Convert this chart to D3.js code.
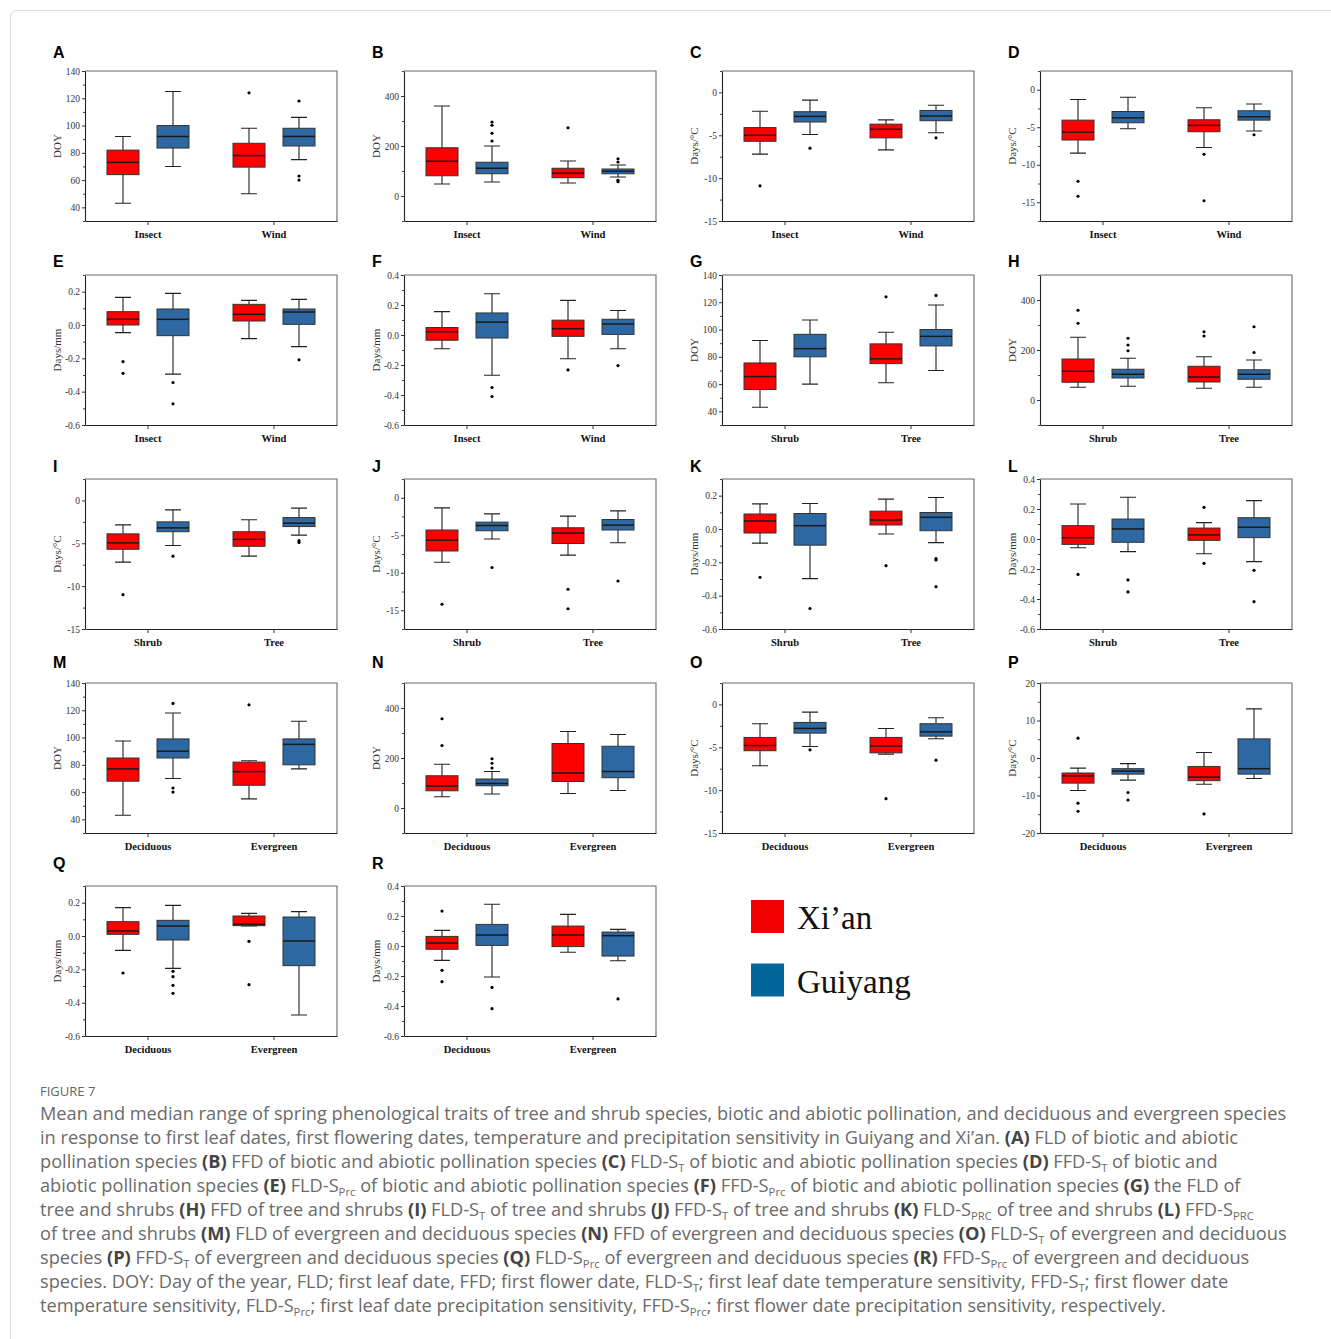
<!DOCTYPE html>
<html>
<head>
<meta charset="utf-8">
<script src="https://cdn.jsdelivr.net/npm/d3@7"></script>
<style>
  body { margin: 0; background: #fff; }
  svg { display: block; }
</style>
</head>
<body>
<svg id="fig" width="1331" height="1339"></svg>
<script>
// ---- series and groups ----
const seriesNames = ["Xi’an", "Guiyang"];
const groupsPollination = ["Insect", "Wind"];
const groupsLifeForm = ["Shrub", "Tree"];
const groupsLeafHabit = ["Deciduous", "Evergreen"];

// ---- box statistics: [lower whisker, Q1, median, Q3, upper whisker]
// order: group1-Xi'an, group1-Guiyang, group2-Xi'an, group2-Guiyang
const statsA = [[43, 64, 73, 82, 92], [70, 83.5, 92, 100, 125], [50, 69.5, 78, 87, 98], [75, 85, 92, 98, 106]];
const outliersA = [[], [], [124], [118, 63, 60]];
const statsB = [[48, 81, 139, 193, 360], [56, 89, 111, 135, 200], [52, 73, 91, 111, 140], [76, 89, 99, 108, 124]];
const outliersB = [[], [296, 283, 251, 220], [273], [149, 136, 63, 57]];
const statsC = [[-7.2, -5.7, -5.0, -4.1, -2.2], [-4.9, -3.45, -2.8, -2.25, -0.9], [-6.7, -5.3, -4.3, -3.7, -3.2], [-4.7, -3.3, -2.75, -2.1, -1.5]];
const outliersC = [[-10.9], [-6.5], [], [-5.3]];
const statsD = [[-8.45, -6.7, -5.65, -4.05, -1.3], [-5.2, -4.4, -3.75, -2.9, -1.0], [-7.7, -5.6, -4.75, -4.0, -2.4], [-5.5, -4.05, -3.6, -2.8, -1.9]];
const outliersD = [[-12.2, -14.2], [], [-8.6, -14.8], [-6.0]];
const statsE = [[-0.046, 0.0, 0.034, 0.08, 0.166], [-0.295, -0.064, 0.034, 0.096, 0.19], [-0.082, 0.024, 0.064, 0.124, 0.148], [-0.13, 0.004, 0.078, 0.096, 0.154]];
const outliersE = [[-0.22, -0.29], [-0.345, -0.473], [], [-0.209]];
const statsF = [[-0.092, -0.035, 0.022, 0.05, 0.156], [-0.268, -0.02, 0.086, 0.147, 0.275], [-0.158, -0.009, 0.042, 0.099, 0.231], [-0.092, 0.004, 0.073, 0.105, 0.163]];
const outliersF = [[], [-0.35, -0.41], [-0.233], [-0.204]];
const statsG = [[43, 56, 65.5, 75.5, 92], [60, 80, 86, 96.5, 107], [61, 75, 78.5, 89.5, 98], [70, 88, 95, 100, 118]];
const outliersG = [[], [], [124], [125]];
const statsH = [[51, 71, 115, 164, 251], [55, 88, 103, 123, 167], [47, 72, 92, 135, 173], [51, 83, 103, 121, 160]];
const outliersH = [[359, 307], [247, 220, 197], [273, 256], [293, 190]];
const statsI = [[-7.2, -5.7, -4.95, -3.9, -2.85], [-5.25, -3.65, -3.2, -2.5, -1.1], [-6.5, -5.35, -4.55, -3.65, -2.25], [-4.05, -3.05, -2.65, -2.0, -0.9]];
const outliersI = [[-11.0], [-6.5], [], [-4.7, -4.9]];
const statsJ = [[-8.6, -7.1, -5.65, -4.3, -1.35], [-5.5, -4.4, -3.7, -3.25, -2.15], [-7.65, -6.1, -4.7, -4.0, -2.45], [-6.0, -4.3, -3.65, -2.9, -1.75]];
const outliersJ = [[-14.2], [-9.3], [-12.2, -14.8], [-11.1]];
const statsK = [[-0.085, -0.024, 0.048, 0.09, 0.151], [-0.298, -0.097, 0.02, 0.093, 0.153], [-0.03, 0.024, 0.054, 0.107, 0.179], [-0.082, -0.01, 0.07, 0.099, 0.189]];
const outliersK = [[-0.29], [-0.477], [-0.22], [-0.178, -0.186, -0.346]];
const statsL = [[-0.058, -0.036, 0.009, 0.089, 0.233], [-0.084, -0.022, 0.067, 0.133, 0.278], [-0.098, -0.009, 0.027, 0.073, 0.109], [-0.151, 0.009, 0.078, 0.142, 0.256]];
const outliersL = [[-0.236], [-0.273, -0.353], [0.211, -0.162], [-0.209, -0.418]];
const statsM = [[43, 68, 77, 85, 97.5], [70, 85, 90, 99, 118], [55, 65, 75, 82, 83], [77, 80, 95, 99, 112]];
const outliersM = [[], [125, 63, 60], [124], []];
const statsN = [[45, 69, 88, 129, 175], [56, 89, 98, 116, 146], [58, 106, 140, 258, 306], [70, 121, 146, 247, 294]];
const outliersN = [[357, 250], [197, 179, 160], [], []];
const statsO = [[-7.15, -5.4, -4.8, -3.85, -2.25], [-4.9, -3.35, -2.8, -2.1, -0.9], [-5.8, -5.65, -4.85, -3.85, -2.8], [-4.0, -3.7, -3.2, -2.25, -1.55]];
const outliersO = [[], [-5.3], [-11.0], [-6.5]];
const statsP = [[-8.65, -6.7, -4.75, -4.0, -2.7], [-5.9, -4.3, -3.5, -2.85, -1.5], [-7.0, -6.05, -5.1, -2.25, 1.45], [-5.45, -4.3, -2.85, 5.1, 13.1]];
const outliersP = [[5.3, -12.05, -14.2], [-9.2, -11.2], [-14.9], []];
const statsQ = [[-0.086, 0.01, 0.03, 0.086, 0.17], [-0.194, -0.024, 0.06, 0.094, 0.184], [0.06, 0.062, 0.07, 0.12, 0.136], [-0.474, -0.178, -0.03, 0.114, 0.146]];
const outliersQ = [[-0.222], [-0.212, -0.244, -0.296, -0.344], [-0.032, -0.292], []];
const statsR = [[-0.096, -0.022, 0.02, 0.064, 0.104], [-0.207, 0.004, 0.073, 0.144, 0.278], [-0.042, -0.004, 0.073, 0.133, 0.211], [-0.098, -0.067, 0.069, 0.093, 0.111]];
const outliersR = [[0.233, -0.162, -0.238], [-0.276, -0.418], [], [-0.353]];

// ---- axis ticks ----
const ticksDOY = [40, 60, 80, 100, 120, 140];
const ticksFFD = [0, 200, 400];
const ticksSens = [0, -5, -10, -15];
const ticksSensWide = [20, 10, 0, -10, -20];
const ticksPrc3 = [0.2, 0.0, -0.2, -0.4, -0.6];
const ticksPrc4 = [0.4, 0.2, 0.0, -0.2, -0.4, -0.6];

const fmtInt = v => String(v);
const fmtDec = v => d3.format(".1f")(v).replace("−", "-");

// ---- panel configuration ----
const DOY = "DOY", TEMP = "Days/°C", PRC = "Days/mm";
const cfg = (id, stats, out, groups, label, domain, ticks, minor, fmt) =>
  ({ id, stats, out, groups, label, domain, ticks, minor, fmt });
const panels = [
  cfg("A", statsA, outliersA, groupsPollination, DOY, [30, 140], ticksDOY, 10, fmtInt),
  cfg("B", statsB, outliersB, groupsPollination, DOY, [-100, 500], ticksFFD, 100, fmtInt),
  cfg("C", statsC, outliersC, groupsPollination, TEMP, [-15, 2.5], ticksSens, 2.5, fmtInt),
  cfg("D", statsD, outliersD, groupsPollination, TEMP, [-17.5, 2.5], ticksSens, 2.5, fmtInt),
  cfg("E", statsE, outliersE, groupsPollination, PRC, [-0.6, 0.3], ticksPrc3, 0.1, fmtDec),
  cfg("F", statsF, outliersF, groupsPollination, PRC, [-0.6, 0.4], ticksPrc4, 0.1, fmtDec),
  cfg("G", statsG, outliersG, groupsLifeForm, DOY, [30, 140], ticksDOY, 10, fmtInt),
  cfg("H", statsH, outliersH, groupsLifeForm, DOY, [-100, 500], ticksFFD, 100, fmtInt),
  cfg("I", statsI, outliersI, groupsLifeForm, TEMP, [-15, 2.5], ticksSens, 2.5, fmtInt),
  cfg("J", statsJ, outliersJ, groupsLifeForm, TEMP, [-17.5, 2.5], ticksSens, 2.5, fmtInt),
  cfg("K", statsK, outliersK, groupsLifeForm, PRC, [-0.6, 0.3], ticksPrc3, 0.1, fmtDec),
  cfg("L", statsL, outliersL, groupsLifeForm, PRC, [-0.6, 0.4], ticksPrc4, 0.1, fmtDec),
  cfg("M", statsM, outliersM, groupsLeafHabit, DOY, [30, 140], ticksDOY, 10, fmtInt),
  cfg("N", statsN, outliersN, groupsLeafHabit, DOY, [-100, 500], ticksFFD, 100, fmtInt),
  cfg("O", statsO, outliersO, groupsLeafHabit, TEMP, [-15, 2.5], ticksSens, 2.5, fmtInt),
  cfg("P", statsP, outliersP, groupsLeafHabit, TEMP, [-20, 20], ticksSensWide, 5, fmtInt),
  cfg("Q", statsQ, outliersQ, groupsLeafHabit, PRC, [-0.6, 0.3], ticksPrc3, 0.1, fmtDec),
  cfg("R", statsR, outliersR, groupsLeafHabit, PRC, [-0.6, 0.4], ticksPrc4, 0.1, fmtDec)
];

// ---- caption ----
const captionTitle = "FIGURE 7";
const captionLines = [
  "Mean and median range of spring phenological traits of tree and shrub species, biotic and abiotic pollination, and deciduous and evergreen species",
  "in response to first leaf dates, first flowering dates, temperature and precipitation sensitivity in Guiyang and Xi’an. **(A)** FLD of biotic and abiotic",
  "pollination species **(B)** FFD of biotic and abiotic pollination species **(C)** FLD-S{T} of biotic and abiotic pollination species **(D)** FFD-S{T} of biotic and",
  "abiotic pollination species **(E)** FLD-S{Prc} of biotic and abiotic pollination species **(F)** FFD-S{Prc} of biotic and abiotic pollination species **(G)** the FLD of",
  "tree and shrubs **(H)** FFD of tree and shrubs **(I)** FLD-S{T} of tree and shrubs **(J)** FFD-S{T} of tree and shrubs **(K)** FLD-S{PRC} of tree and shrubs **(L)** FFD-S{PRC}",
  "of tree and shrubs **(M)** FLD of evergreen and deciduous species **(N)** FFD of evergreen and deciduous species **(O)** FLD-S{T} of evergreen and deciduous",
  "species **(P)** FFD-S{T} of evergreen and deciduous species **(Q)** FLD-S{Prc} of evergreen and deciduous species **(R)** FFD-S{Prc} of evergreen and deciduous",
  "species. DOY: Day of the year, FLD; first leaf date, FFD; first flower date, FLD-S{T}; first leaf date temperature sensitivity, FFD-S{T}; first flower date",
  "temperature sensitivity, FLD-S{Prc}; first leaf date precipitation sensitivity, FFD-S{Prc}; first flower date precipitation sensitivity, respectively."
];

// ---- drawing ----
const svg = d3.select("#fig");
const SERIF = "'Liberation Serif', 'Times New Roman', serif";
const SANS = "'Liberation Sans', Arial, sans-serif";
const boxFill = { "Xi’an": "#ff0000", "Guiyang": "#2e68a3" };
const legendFill = { "Xi’an": "#f20000", "Guiyang": "#03669a" };

// card outline
svg.append("rect")
  .attr("x", 10.5).attr("y", 10.5).attr("width", 1340).attr("height", 1340)
  .attr("rx", 6).attr("fill", "none").attr("stroke", "#dcdcdc");

const colLeft = [85, 404, 722, 1040];
const rowTop = [71, 275, 479, 683, 886];
const letterY = [52, 261, 466, 662, 863];
const plotW = 252, plotH = 150;

panels.forEach((p, i) => {
  const col = i % 4, row = Math.floor(i / 4);
  const g = svg.append("g").attr("transform", `translate(${colLeft[col]},${rowTop[row]})`);

  const y = d3.scaleLinear().domain(p.domain).range([plotH, 0]);
  const x = d3.scaleBand().domain(p.groups).range([0, plotW]);
  const xs = d3.scaleBand().domain(seriesNames).range([0, x.bandwidth()])
    .paddingInner(0.36).paddingOuter(0.44);
  const bw = xs.bandwidth();

  // panel letter
  svg.append("text")
    .attr("x", colLeft[col] - 32).attr("y", letterY[row] + 6)
    .attr("font-family", SANS).attr("font-weight", 700).attr("font-size", 16)
    .attr("fill", "#000").text(p.id);

  // top / right frame
  g.append("path").attr("d", `M0,0H${plotW}V${plotH}`)
    .attr("fill", "none").attr("stroke", "#666").attr("stroke-width", 1.1);

  // minor y ticks
  const eps = 1e-9;
  const minor = d3.range(p.domain[0], p.domain[1] + eps, p.minor)
    .filter(v => !p.ticks.some(t => Math.abs(t - v) < eps));
  g.append("g")
    .call(d3.axisLeft(y).tickValues(minor).tickSize(2).tickSizeOuter(0).tickFormat(""))
    .call(a => a.select(".domain").remove())
    .call(a => a.selectAll("text").remove())
    .call(a => a.selectAll("line").attr("stroke", "#444"));

  // y axis
  g.append("g")
    .call(d3.axisLeft(y).tickValues(p.ticks).tickSize(3).tickSizeOuter(0).tickPadding(2).tickFormat(p.fmt))
    .call(a => a.select(".domain").attr("stroke", "#222").attr("stroke-width", 1.1))
    .call(a => a.selectAll("line").attr("stroke", "#333"))
    .call(a => a.selectAll("text").attr("font-family", SERIF).attr("font-size", 9.5).attr("fill", "#333"));

  // x axis
  g.append("g").attr("transform", `translate(0,${plotH})`)
    .call(d3.axisBottom(x).tickSize(4).tickSizeOuter(0).tickPadding(6))
    .call(a => a.select(".domain").attr("stroke", "#222").attr("stroke-width", 1.1))
    .call(a => a.selectAll("line").attr("stroke", "#333"))
    .call(a => a.selectAll("text").attr("font-family", SERIF).attr("font-weight", 700)
      .attr("font-size", 10.5).attr("fill", "#111"));

  // y label
  g.append("text")
    .attr("transform", `translate(-28,${plotH / 2}) rotate(-90)`)
    .attr("text-anchor", "middle").attr("dominant-baseline", "central")
    .attr("font-family", SERIF).attr("font-size", 11).attr("fill", "#333")
    .text(p.label);

  // boxes
  const items = [];
  p.groups.forEach((grp, gi) => seriesNames.forEach((s, si) => {
    items.push({ grp, s, st: p.stats[gi * 2 + si], out: p.out[gi * 2 + si] });
  }));

  const box = g.selectAll("g.box").data(items).join("g").attr("class", "box")
    .attr("transform", d => `translate(${x(d.grp) + xs(d.s) + bw / 2},0)`);

  // whiskers
  box.append("path")
    .attr("d", d => {
      const [lo, q1, , q3, hi] = d.st;
      const c = bw / 4;
      return `M0,${y(hi)}V${y(q3)}M0,${y(q1)}V${y(lo)}` +
        `M${-c},${y(hi)}H${c}M${-c},${y(lo)}H${c}`;
    })
    .attr("fill", "none").attr("stroke", "#222").attr("stroke-width", 1.1);

  box.append("rect")
    .attr("x", -bw / 2).attr("width", bw)
    .attr("y", d => y(d.st[3]))
    .attr("height", d => Math.max(0.5, y(d.st[1]) - y(d.st[3])))
    .attr("fill", d => boxFill[d.s])
    .attr("stroke", "#333").attr("stroke-width", 1);

  box.append("line")
    .attr("x1", -bw / 2).attr("x2", bw / 2)
    .attr("y1", d => y(d.st[2])).attr("y2", d => y(d.st[2]))
    .attr("stroke", "#1a1a1a").attr("stroke-width", 1.5);

  box.selectAll("circle").data(d => d.out).join("circle")
    .attr("cx", 0).attr("cy", v => y(v)).attr("r", 1.6).attr("fill", "#000");
});

// ---- legend ----
const legend = svg.append("g").attr("transform", "translate(751,900)");
seriesNames.forEach((s, i) => {
  const lg = legend.append("g").attr("transform", `translate(0,${i * 63.5})`);
  lg.append("rect").attr("width", 33).attr("height", 33).attr("fill", legendFill[s]);
  lg.append("text").attr("x", 46).attr("y", 29)
    .attr("font-family", SERIF).attr("font-size", 33).attr("fill", "#111").text(s);
});

// ---- caption ----
const CAP = "'Open Sans', 'Noto Sans', sans-serif";
svg.append("text").attr("x", 40).attr("y", 1096)
  .attr("font-family", CAP).attr("font-size", 13).attr("fill", "#666")
  .text(captionTitle);

const capG = svg.append("g").attr("font-family", CAP).attr("fill", "#6a6a6a");
let capSize = 17;
function addLine(str, yPos, size) {
  const t = capG.append("text").attr("x", 40).attr("y", yPos).attr("font-size", size);
  const parts = str.split(/(\*\*[^*]+\*\*|\{[^}]+\})/).filter(s => s.length);
  const drop = size * 0.2;
  let lowered = false;
  parts.forEach(part => {
    let span;
    if (part.startsWith("**")) {
      span = t.append("tspan").attr("font-weight", 700).attr("fill", "#444").text(part.slice(2, -2));
    } else if (part.startsWith("{")) {
      span = t.append("tspan").attr("font-size", size * 0.62).text(part.slice(1, -1));
      span.attr("dy", lowered ? 0 : drop);
      lowered = true;
      return;
    } else {
      span = t.append("tspan").text(part);
    }
    if (lowered) { span.attr("dy", -drop); lowered = false; }
  });
  return t;
}
// size the caption so the first line spans the text column
const probe = addLine(captionLines[0], 1120, capSize);
const w0 = probe.node().getComputedTextLength();
probe.remove();
capSize = capSize * 1247 / w0;
captionLines.forEach((line, i) => addLine(line, 1120 + i * 24, capSize));
</script>
</body>
</html>
